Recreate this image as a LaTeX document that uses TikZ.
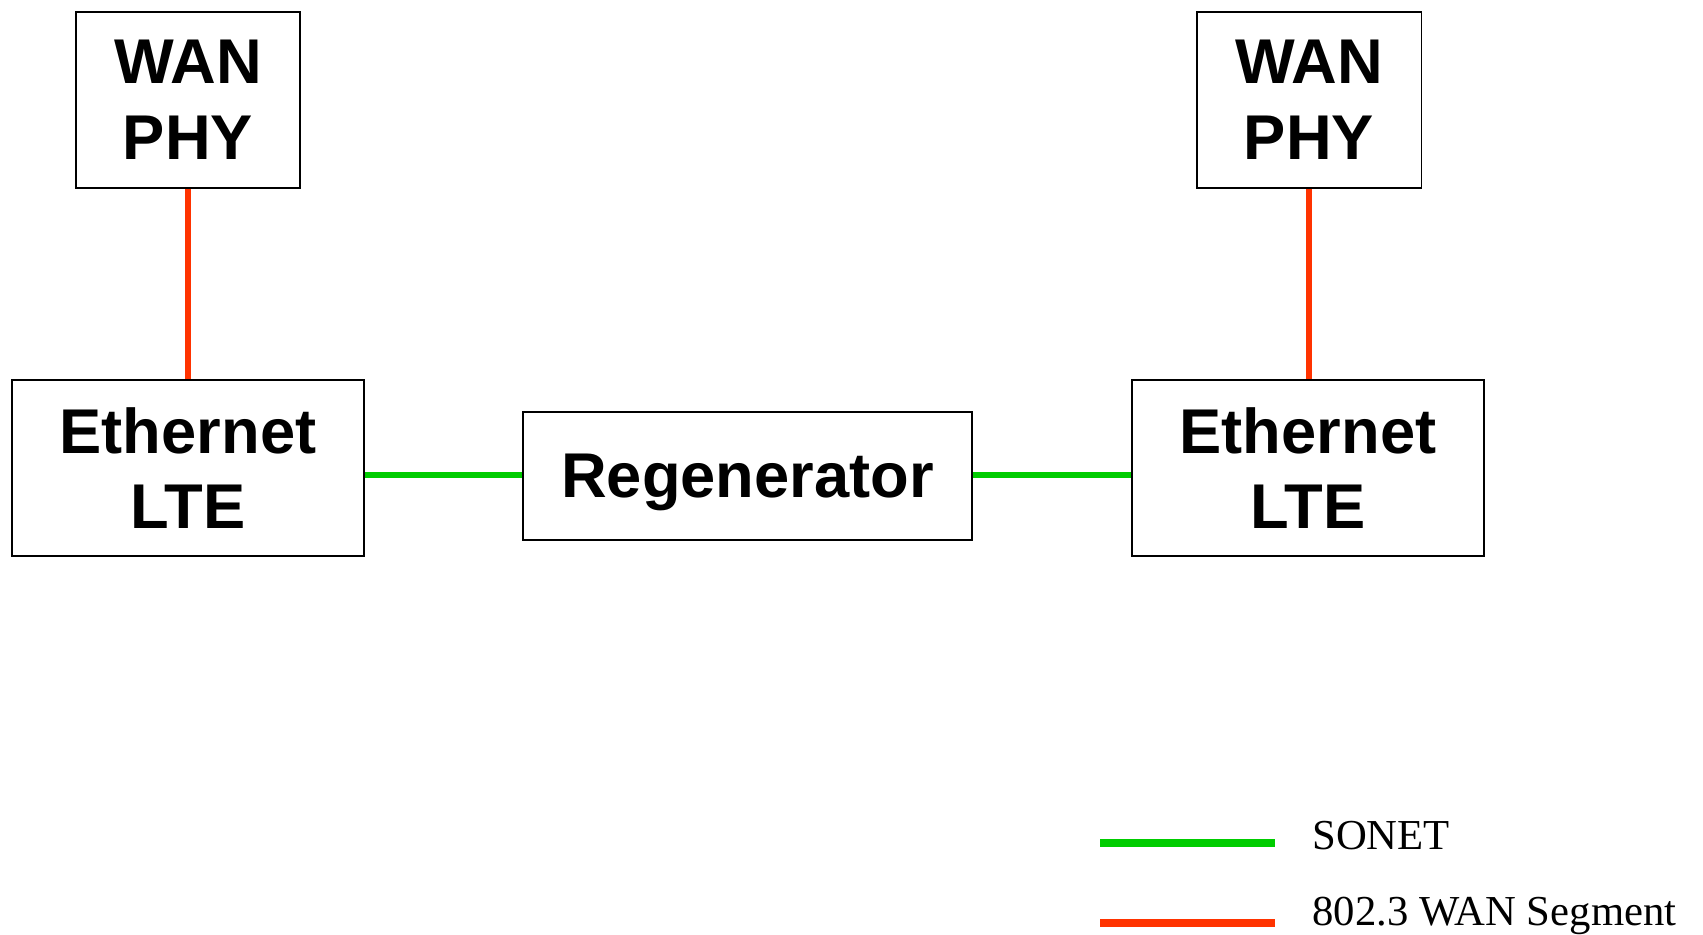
\documentclass[tikz,border=0pt]{standalone}
\usepackage{fontspec}
\setmainfont{Liberation Serif}
\newfontfamily\boxfont{Liberation Sans}
\usetikzlibrary{positioning}
\definecolor{SonetGreen}{RGB}{0,204,0}
\definecolor{WanRed}{RGB}{255,51,0}

\begin{document}
\begin{tikzpicture}[x=0.02cm, y=-0.02cm,
    unit/.style={draw=black, line width=1.1pt, align=center, inner sep=0pt,
      font=\boxfont\fontsize{36}{43}\selectfont\bfseries, minimum height=3.52cm},
    sonet/.style={color=SonetGreen, line width=3.6pt},
    wanseg/.style={color=WanRed, line width=3.6pt},
    legendtext/.style={anchor=base west, inner sep=0pt, font=\fontsize{24.3}{28}\selectfont}]
    \useasboundingbox (0,0) rectangle (1703,935);
    % network elements
    \node[unit, minimum width=4.48cm] (phyL) at (188,100) {WAN\\PHY};
    \node[unit, minimum width=4.5cm] (phyR) at (1309,100) {WAN\\PHY};
    \node[unit, minimum width=7.04cm] (lteL) at (188,468) {Ethernet\\LTE};
    \node[unit, minimum width=7.04cm] (lteR) at (1308,468) {Ethernet\\LTE};
    \node[unit, minimum width=8.98cm, minimum height=2.56cm, text depth=0pt] (regen) at (747.5,476) {Regenerator};
    % links
    \draw[wanseg] (phyL.south) -- (lteL.north);
    \draw[wanseg] (phyR.south) -- (phyR.south |- lteR.north);
    \draw[sonet] (lteL.east |- 0,475) -- (regen.west |- 0,475);
    \draw[sonet] (regen.east |- 0,475) -- (lteR.west |- 0,475);
    % legend
    \coordinate (sonA) at (1100,843);
    \coordinate (sonB) at (1275,843);
    \coordinate (wanA) at (1100,923);
    \coordinate (wanB) at (1275,923);
    \draw[sonet, line width=4pt] (sonA) -- (sonB);
    \draw[wanseg, line width=4pt] (wanA) -- (wanB);
    \node[legendtext] (sonLbl) at (1312,849) {SONET};
    \node[legendtext] (wanLbl) at (1312,925) {802.3 WAN Segment};
  \end{tikzpicture}
\end{document}
